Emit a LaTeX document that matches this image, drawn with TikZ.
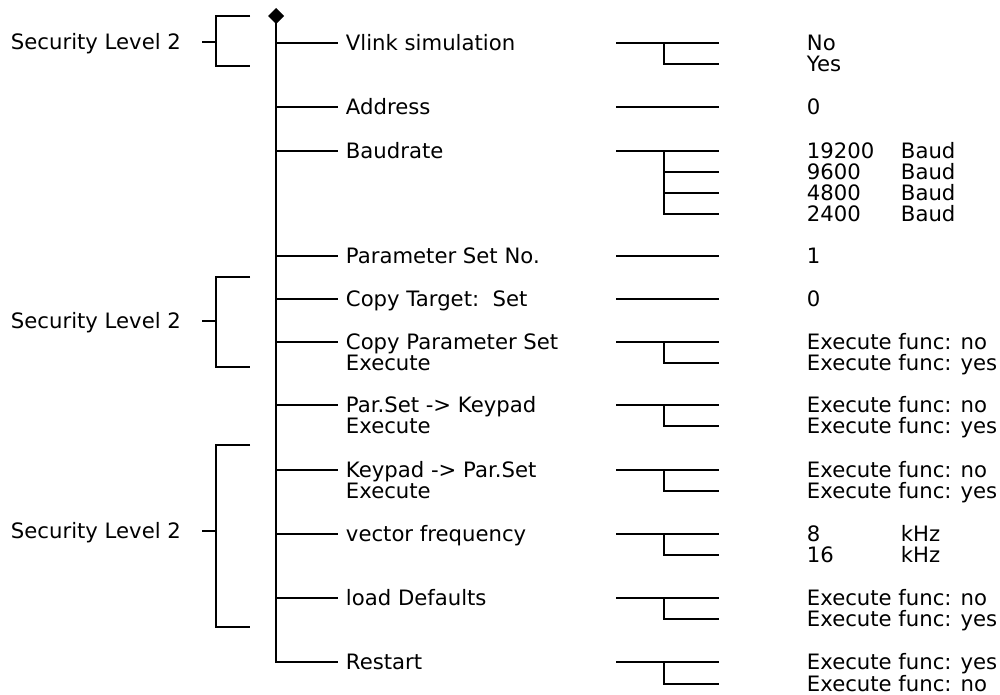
\documentclass[tikz,border=0pt]{standalone}
\usepackage{fontspec}
\setmainfont{DejaVu Sans}
\usetikzlibrary{shapes.geometric}
\begin{document}
\begin{tikzpicture}[x=1pt,y=-1pt,line width=1.9pt,line join=miter,
  txt/.style={anchor=base west,yshift=-7.7pt,inner sep=0pt,font=\fontsize{21.2}{21}\selectfont},
  wire/.style={draw=black,line width=1.9pt}]
\useasboundingbox (0,0) rectangle (1000,695);
% top diamond and main trunk
\foreach \n/\y in {1/43,2/107,3/151,4/256,5/299,6/342,7/405,8/470,9/534,10/598,11/662}{
  \coordinate (m\n) at (276,\y);
  \coordinate (e\n) at (338,\y);
}
\coordinate (top) at (276,16);
\draw[wire] (top) -- (m11) -- (e11);
\node[diamond,fill=black,inner sep=0pt,outer sep=0pt,minimum size=16pt] (dia) at (top) {};
\foreach \n in {1,...,10}{\draw[wire] (m\n) -- (e\n);}
% menu labels
\node[txt] (t1) at (345,43) {Vlink simulation};
\node[txt] (t2) at (345,107) {Address};
\node[txt] (t3) at (345,151) {Baudrate};
\node[txt] (t4) at (345,256) {Parameter Set No.};
\node[txt] (t5) at (345,299) {Copy Target:\ \ Set};
\node[txt] (t6) at (345,342) {Copy Parameter Set};
\node[txt] (t6b) at (345,363) {Execute};
\node[txt] (t7) at (345,405) {Par.Set -> Keypad};
\node[txt] (t7b) at (345,426) {Execute};
\node[txt] (t8) at (345,470) {Keypad -> Par.Set};
\node[txt] (t8b) at (345,491) {Execute};
\node[txt] (t9) at (345,534) {vector frequency};
\node[txt] (t10) at (345,598) {load Defaults};
\node[txt] (t11) at (345,662) {Restart};
% right-hand option trees
\foreach \n/\y in {1/43,2/107,3/151,4/256,5/299,6/342,7/405,8/470,9/534,10/598,11/662}{
  \coordinate (ra\n) at (616,\y);
  \coordinate (rb\n) at (719,\y);
  \coordinate (rj\n) at (664,\y);
  \draw[wire] (ra\n) -- (rb\n);
}
\foreach \n/\y in {1/64,6/363,7/426,8/491,9/555,10/619,11/684}{
  \coordinate (rc\n) at (664,\y);
  \coordinate (rd\n) at (719,\y);
  \draw[wire] (rj\n) -- (rc\n) -- (rd\n);
}
\coordinate (bq1) at (664,172); \coordinate (bq2) at (664,193); \coordinate (bq3) at (664,214);
\coordinate (bw1) at (719,172); \coordinate (bw2) at (719,193); \coordinate (bw3) at (719,214);
\draw[wire] (rj3) -- (bq3) -- (bw3);
\draw[wire] (bq1) -- (bw1);
\draw[wire] (bq2) -- (bw2);
% values
\node[txt] (v1a) at (806,43) {No};
\node[txt] (v1b) at (806,64) {Yes};
\node[txt] (v2) at (806,107) {0};
\node[txt] (v3a) at (806,151) {19200};
\node[txt] (v3b) at (806,172) {9600};
\node[txt] (v3c) at (806,193) {4800};
\node[txt] (v3d) at (806,214) {2400};
\node[txt] (u3a) at (900,151) {Baud};
\node[txt] (u3b) at (900,172) {Baud};
\node[txt] (u3c) at (900,193) {Baud};
\node[txt] (u3d) at (900,214) {Baud};
\node[txt] (v4) at (806,256) {1};
\node[txt] (v5) at (806,299) {0};
\node[txt] (v6a) at (806,342) {Execute func: no};
\node[txt] (v6b) at (806,363) {Execute func: yes};
\node[txt] (v7a) at (806,405) {Execute func: no};
\node[txt] (v7b) at (806,426) {Execute func: yes};
\node[txt] (v8a) at (806,470) {Execute func: no};
\node[txt] (v8b) at (806,491) {Execute func: yes};
\node[txt] (v9a) at (806,534) {8};
\node[txt] (v9b) at (806,555) {16};
\node[txt] (u9a) at (900,534) {kHz};
\node[txt] (u9b) at (900,555) {kHz};
\node[txt] (v10a) at (806,598) {Execute func: no};
\node[txt] (v10b) at (806,619) {Execute func: yes};
\node[txt] (v11a) at (806,662) {Execute func: yes};
\node[txt] (v11b) at (806,684) {Execute func: no};
% security level brackets
\foreach \n/\t/\m/\b in {1/16/42/66,2/277/321/367,3/445/531/627}{
  \coordinate (sa\n) at (250,\t);
  \coordinate (sb\n) at (216,\t);
  \coordinate (sc\n) at (216,\b);
  \coordinate (sd\n) at (250,\b);
  \coordinate (sm\n) at (216,\m);
  \coordinate (st\n) at (202,\m);
  \draw[wire] (sa\n) -- (sb\n) -- (sc\n) -- (sd\n);
  \draw[wire] (st\n) -- (sm\n);
  \node[txt] (s\n) at (10,\m) {Security Level 2};
}
\end{tikzpicture}
\end{document}
